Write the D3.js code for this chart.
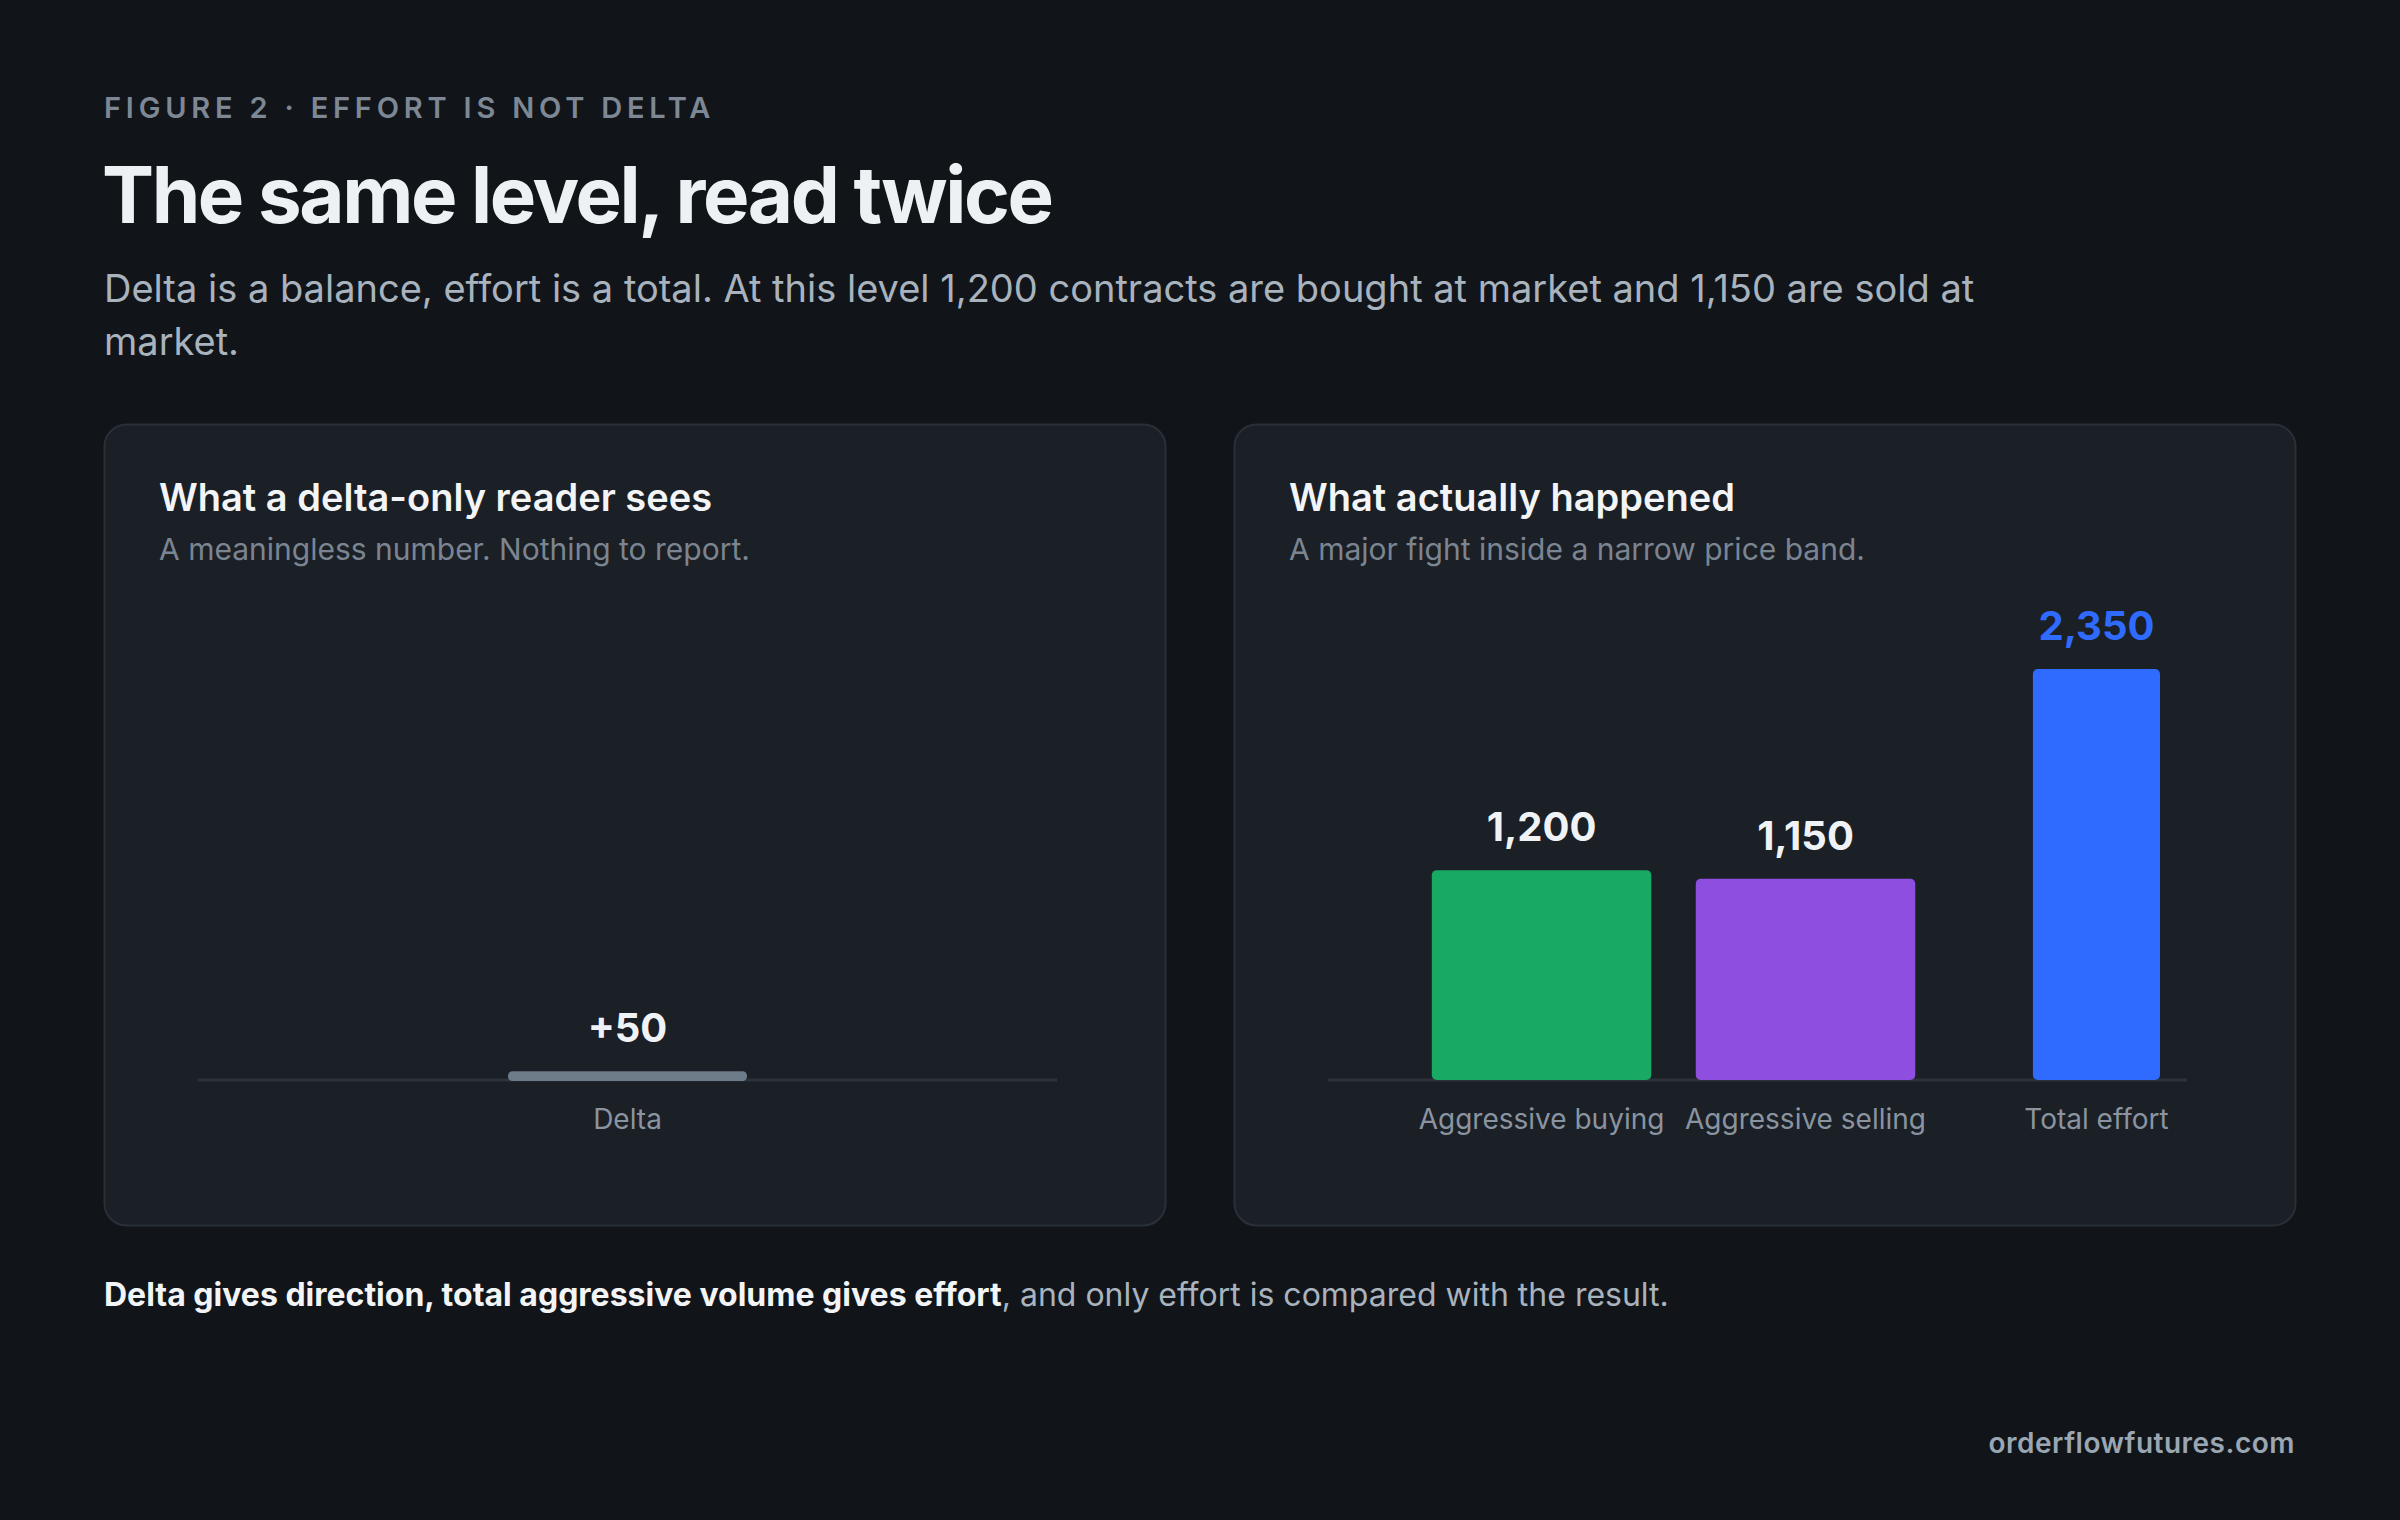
<!DOCTYPE html>
<html>
<head>
<meta charset="utf-8">
<script src="https://cdn.jsdelivr.net/npm/d3@7/dist/d3.min.js"></script>
<style>
  html, body { margin: 0; padding: 0; background: #11151a; }
  svg { display: block; font-family: Inter, "Noto Sans", sans-serif; }
</style>
</head>
<body>
<svg id="chart" width="2400" height="1520"></svg>
<script>
// ---------- data ----------
const deltaCategories = ["Delta"];
const deltaValues = [50];
const deltaLabels = ["+50"];

const effortCategories = ["Aggressive buying", "Aggressive selling", "Total effort"];
const effortValues = [1200, 1150, 2350];
const effortLabels = ["1,200", "1,150", "2,350"];

// ---------- layout / style ----------
const W = 2400, H = 1520;
const C = {
  bg: "#11151a", panel: "#1b1f26", border: "#2a3039",
  eyebrow: "#7d8894", title: "#eef1f4", sub: "#a9b3be",
  pTitle: "#f2f4f6", pSub: "#7b8591", axis: "#2d333b",
  cat: "#8a94a0", value: "#f0f3f6", delta: "#6e7b88",
  green: "#18aa64", purple: "#8e4fe0", blue: "#2f6bff",
  foot: "#a9b3be", footB: "#f2f4f6", mark: "#9aa6b2"
};
const effortColors = [C.green, C.purple, C.blue];
const effortLabelColors = [C.value, C.value, C.blue];

const svg = d3.select("#chart");
svg.append("rect").attr("width", W).attr("height", H).attr("fill", C.bg);

// header
svg.append("text").attr("x", 104).attr("y", 118)
  .attr("fill", C.eyebrow).attr("font-size", 29).attr("font-weight", 600)
  .attr("letter-spacing", 4.8).text("FIGURE 2 · EFFORT IS NOT DELTA");
svg.append("text").attr("x", 102).attr("y", 223)
  .attr("fill", C.title).attr("font-size", 78).attr("font-weight", 700)
  .attr("letter-spacing", -2.4).text("The same level, read twice");
const sub = svg.append("text").attr("fill", C.sub).attr("font-size", 38).attr("font-weight", 400);
["Delta is a balance, effort is a total. At this level 1,200 contracts are bought at market and 1,150 are sold at",
 "market."].forEach((t, i) => sub.append("tspan").attr("x", 104).attr("y", 302 + i * 53).text(t));

// panels
const panelY = 424, panelW = 1061, panelH = 801;
const axisY = 1080;
// shared value scale (same units in both panels)
const y = d3.scaleLinear().domain([0, d3.max(effortValues)]).range([axisY, 669]);

function panel(x0, title, subtitle) {
  const g = svg.append("g").attr("transform", `translate(${x0},${panelY})`);
  g.append("rect").attr("x", 0.5).attr("y", 0.5).attr("width", panelW).attr("height", panelH)
    .attr("rx", 22).attr("fill", C.panel).attr("stroke", C.border).attr("stroke-width", 2);
  g.append("text").attr("x", 55).attr("y", 87).attr("fill", C.pTitle)
    .attr("font-size", 38).attr("font-weight", 600).text(title);
  g.append("text").attr("x", 55).attr("y", 136).attr("fill", C.pSub)
    .attr("font-size", 30).text(subtitle);
  return g;
}

const axisX0 = 94, axisX1 = 953;

// ----- left panel: delta only -----
const gL = panel(104, "What a delta-only reader sees", "A meaningless number. Nothing to report.");
const xL = d3.scaleBand().domain(deltaCategories).range([axisX0, axisX1]).paddingInner(0.5).paddingOuter(0.6485);
const gLc = gL.append("g").attr("transform", `translate(0,${-panelY})`);
gLc.append("line").attr("x1", axisX0).attr("x2", axisX1).attr("y1", axisY).attr("y2", axisY)
  .attr("stroke", C.axis).attr("stroke-width", 3);
gLc.selectAll("rect.bar").data(deltaValues).join("rect").attr("class", "bar")
  .attr("x", (d, i) => xL(deltaCategories[i])).attr("width", xL.bandwidth())
  .attr("y", d => y(d)).attr("height", d => y(0) - y(d) + 1)
  .attr("rx", 4.5).attr("fill", C.delta);
gLc.selectAll("text.val").data(deltaValues).join("text").attr("class", "val")
  .attr("x", (d, i) => xL(deltaCategories[i]) + xL.bandwidth() / 2)
  .attr("y", d => y(d) - 29).attr("text-anchor", "middle")
  .attr("fill", C.value).attr("font-size", 40).attr("font-weight", 700)
  .text((d, i) => deltaLabels[i]);
gLc.selectAll("text.cat").data(deltaCategories).join("text").attr("class", "cat")
  .attr("x", d => xL(d) + xL.bandwidth() / 2).attr("y", axisY + 49)
  .attr("text-anchor", "middle").attr("fill", C.cat).attr("font-size", 28).text(d => d);

// ----- right panel: effort -----
const gR = panel(1234, "What actually happened", "A major fight inside a narrow price band.");
const gRc = gR.append("g").attr("transform", `translate(0,${-panelY})`);
// position scale: fraction of the plot width -> pixels
const xR = d3.scaleLinear().domain([0, 1]).range([axisX0, axisX1]);
const slotCenter = [0.2486, 0.5559, 0.8946];
const slotWidth = [0.2555, 0.2555, 0.148];
gRc.append("line").attr("x1", axisX0).attr("x2", axisX1).attr("y1", axisY).attr("y2", axisY)
  .attr("stroke", C.axis).attr("stroke-width", 3);
const bw = i => xR(slotWidth[i]) - xR(0);
gRc.selectAll("rect.bar").data(effortValues).join("rect").attr("class", "bar")
  .attr("x", (d, i) => xR(slotCenter[i]) - bw(i) / 2).attr("width", (d, i) => bw(i))
  .attr("y", d => y(d)).attr("height", d => y(0) - y(d))
  .attr("rx", 5).attr("fill", (d, i) => effortColors[i]);
gRc.selectAll("text.val").data(effortValues).join("text").attr("class", "val")
  .attr("x", (d, i) => xR(slotCenter[i])).attr("y", d => y(d) - 29)
  .attr("text-anchor", "middle").attr("fill", (d, i) => effortLabelColors[i])
  .attr("font-size", 40).attr("font-weight", 700).text((d, i) => effortLabels[i]);
gRc.selectAll("text.cat").data(effortCategories).join("text").attr("class", "cat")
  .attr("x", (d, i) => xR(slotCenter[i])).attr("y", axisY + 49)
  .attr("text-anchor", "middle").attr("fill", C.cat).attr("font-size", 28).text(d => d);

// footnote
const foot = svg.append("text").attr("x", 104).attr("y", 1306).attr("font-size", 32);
foot.append("tspan").attr("fill", C.footB).attr("font-weight", 700)
  .text("Delta gives direction, total aggressive volume gives effort");
foot.append("tspan").attr("fill", C.foot).attr("font-weight", 400)
  .text(", and only effort is compared with the result.");

// watermark
svg.append("text").attr("x", 2295).attr("y", 1453).attr("text-anchor", "end")
  .attr("fill", C.mark).attr("font-size", 28).attr("font-weight", 600).attr("letter-spacing", 0.5)
  .text("orderflowfutures.com");
</script>
</body>
</html>
